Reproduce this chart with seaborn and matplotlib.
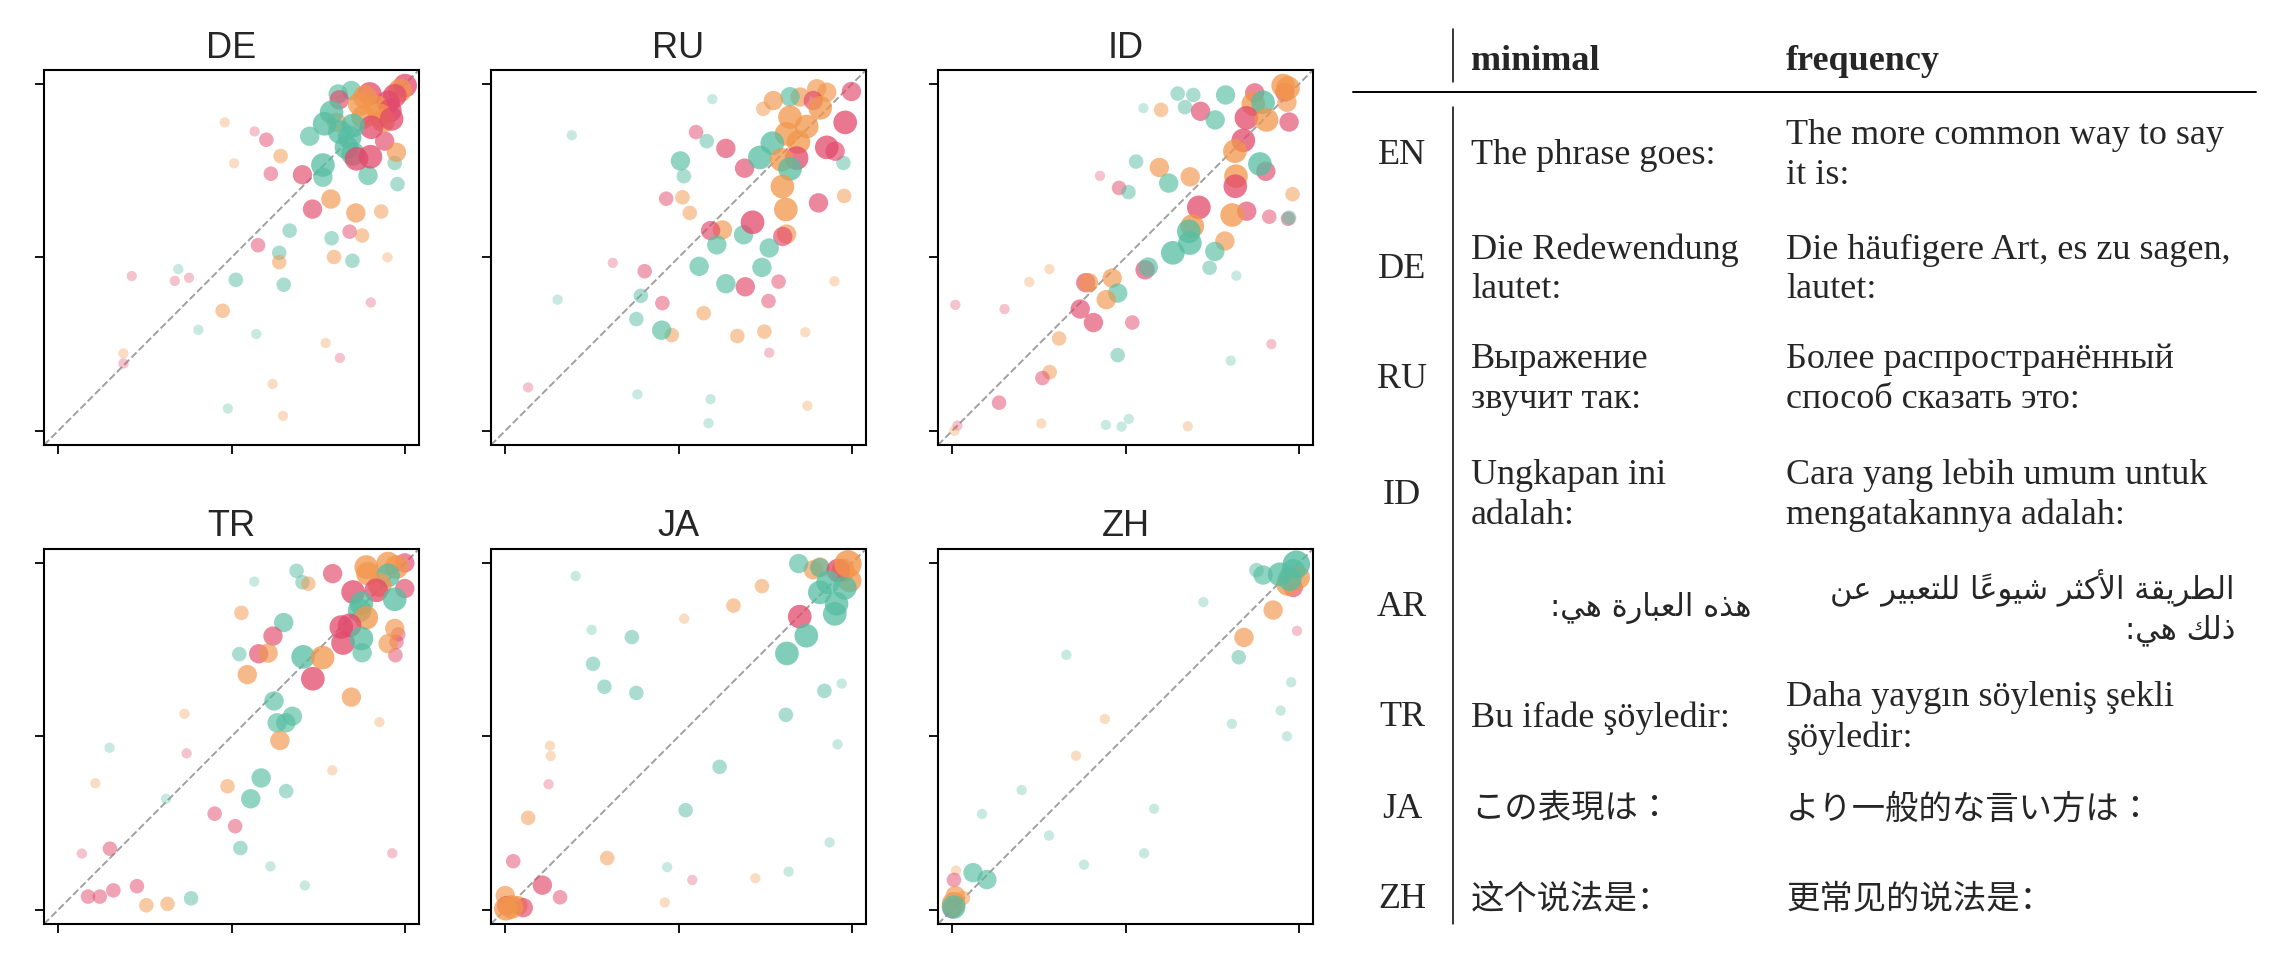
import numpy as np
import pandas as pd
import seaborn as sns
import matplotlib.pyplot as plt

# ---- scatter data: x = minimal score, y = frequency score, g = model, s = weight level
languages = ['DE', 'RU', 'ID', 'TR', 'JA', 'ZH']

de_x = [1.00, 0.985, 0.97, 0.898, 0.845, 0.807, 0.81, 0.884, 0.869, 0.951, 0.917, 0.956, 0.788, 0.879, 0.927,
        0.937, 0.961, 0.903, 0.802, 0.768, 0.85, 0.812, 0.84, 0.725, 0.941, 0.831, 0.85, 0.86, 0.9, 0.975,
        0.763, 0.763, 0.704, 0.893, 0.97, 0.978, 0.641, 0.507, 0.613, 0.566, 0.6, 0.48, 0.786, 0.733, 0.858,
        0.931, 0.667, 0.84, 0.876, 0.788, 0.576, 0.637, 0.637, 0.795, 0.848, 0.949, 0.346, 0.212, 0.336, 0.377,
        0.512, 0.65, 0.901, 0.474, 0.404, 0.571, 0.771, 0.812, 0.188, 0.188, 0.618, 0.489, 0.648]
de_y = [0.995, 0.981, 0.966, 0.971, 0.981, 0.971, 0.954, 0.962, 0.942, 0.947, 0.933, 0.923, 0.918, 0.904, 0.909,
        0.894, 0.899, 0.875, 0.889, 0.885, 0.88, 0.861, 0.846, 0.849, 0.835, 0.817, 0.798, 0.784, 0.79, 0.803,
        0.766, 0.731, 0.738, 0.736, 0.772, 0.711, 0.792, 0.771, 0.741, 0.863, 0.839, 0.889, 0.668, 0.639, 0.628,
        0.632, 0.577, 0.574, 0.563, 0.555, 0.535, 0.513, 0.486, 0.501, 0.49, 0.5, 0.466, 0.446, 0.432, 0.441,
        0.435, 0.421, 0.37, 0.346, 0.291, 0.279, 0.253, 0.21, 0.223, 0.194, 0.135, 0.064, 0.043]
de_g = "rorrttroor" "ortooorrot" "ttttrttrro" "ttrtttoorr" "roorootrot" "rtoototrrr" "ttrottoror" "oto"
de_s = [4, 4, 4, 4, 3, 3, 3, 4, 4, 4, 4, 4, 4, 4, 4, 4, 4, 4, 3, 4, 4, 4, 4, 3, 3, 4, 4, 4, 4, 3,
        4, 3, 3, 3, 2, 2, 2, 1, 2, 1, 2, 1, 3, 3, 3, 2, 2, 2, 2, 2, 2, 2, 2, 2, 2, 1, 1, 1, 1, 1,
        2, 2, 1, 2, 1, 1, 1, 1, 1, 1, 1, 1, 1]

ru_x = [0.998, 0.898, 0.927, 0.85, 0.821, 0.888, 0.908, 0.773, 0.744, 0.597, 0.821, 0.869, 0.98, 0.811, 0.845,
        0.77, 0.734, 0.84, 0.797, 0.821, 0.927, 0.951, 0.975, 0.69, 0.55, 0.581, 0.636, 0.505, 0.515, 0.192,
        0.799, 0.977, 0.903, 0.464, 0.511, 0.532, 0.809, 0.713, 0.626, 0.592, 0.687, 0.811, 0.8, 0.61, 0.761,
        0.559, 0.74, 0.31, 0.402, 0.636, 0.692, 0.788, 0.949, 0.151, 0.391, 0.453, 0.759, 0.572, 0.378, 0.451,
        0.48, 0.669, 0.747, 0.865, 0.761, 0.066, 0.381, 0.592, 0.871, 0.586]
ru_y = [0.978, 0.986, 0.976, 0.962, 0.963, 0.952, 0.931, 0.952, 0.928, 0.956, 0.904, 0.877, 0.889, 0.856, 0.832,
        0.829, 0.788, 0.786, 0.781, 0.755, 0.817, 0.806, 0.772, 0.757, 0.861, 0.835, 0.814, 0.778, 0.734, 0.852,
        0.704, 0.677, 0.657, 0.669, 0.673, 0.628, 0.638, 0.601, 0.579, 0.577, 0.565, 0.567, 0.56, 0.536, 0.527,
        0.474, 0.471, 0.484, 0.46, 0.424, 0.415, 0.43, 0.431, 0.378, 0.389, 0.368, 0.374, 0.339, 0.322, 0.29,
        0.276, 0.273, 0.286, 0.284, 0.225, 0.125, 0.105, 0.091, 0.072, 0.022]
ru_g = "roootrooot" "ooroottrot" "rrtrrtrttt" "oorroooror" "torttttrrt" "rrottrrott" "oooorrttot"
ru_s = [3, 3, 3, 3, 3, 3, 4, 3, 2, 1, 4, 4, 4, 4, 4, 4, 4, 4, 4, 4, 4, 3, 2, 3, 2, 2, 3, 3, 2, 1,
        4, 2, 3, 2, 2, 2, 4, 4, 3, 3, 3, 3, 3, 3, 3, 3, 3, 1, 2, 3, 3, 2, 1, 1, 2, 2, 2, 2, 2, 3,
        2, 2, 2, 1, 1, 1, 1, 1, 1, 1]

id_x = [0.954, 0.968, 0.959, 0.872, 0.868, 0.896, 0.965, 0.848, 0.906, 0.971, 0.65, 0.695, 0.788, 0.551, 0.602,
        0.671, 0.716, 0.758, 0.839, 0.815, 0.53, 0.597, 0.887, 0.904, 0.426, 0.686, 0.818, 0.816, 0.624, 0.481,
        0.508, 0.981, 0.711, 0.849, 0.807, 0.914, 0.968, 0.971, 0.692, 0.682, 0.685, 0.786, 0.636, 0.757, 0.742,
        0.819, 0.556, 0.565, 0.28, 0.222, 0.385, 0.393, 0.461, 0.477, 0.444, 0.009, 0.151, 0.369, 0.407, 0.519,
        0.308, 0.92, 0.477, 0.803, 0.281, 0.26, 0.135, 0.015, 0.006, 0.257, 0.443, 0.488, 0.509, 0.679]
id_y = [0.995, 0.988, 0.976, 0.974, 0.942, 0.947, 0.947, 0.902, 0.896, 0.89, 0.972, 0.968, 0.968, 0.93, 0.925,
        0.933, 0.921, 0.896, 0.837, 0.806, 0.776, 0.759, 0.769, 0.748, 0.735, 0.732, 0.734, 0.705, 0.714, 0.7,
        0.688, 0.682, 0.644, 0.633, 0.622, 0.617, 0.611, 0.614, 0.59, 0.575, 0.541, 0.547, 0.513, 0.517, 0.47,
        0.447, 0.464, 0.472, 0.466, 0.429, 0.427, 0.427, 0.44, 0.397, 0.378, 0.363, 0.351, 0.351, 0.312, 0.312,
        0.266, 0.25, 0.218, 0.202, 0.169, 0.152, 0.081, 0.015, 0.0, 0.021, 0.017, 0.012, 0.034, 0.013]
id_g = "oorrotoror" "ttttotrtro" "totrroortr" "torrorrtot" "tottttrtoo" "rootorrrrr" "orttorrroo" "ttto"
id_s = [4, 4, 3, 3, 4, 4, 3, 4, 4, 3, 2, 2, 3, 1, 2, 2, 3, 3, 4, 4, 2, 3, 4, 3, 1, 3, 4, 4, 3, 2,
        2, 2, 4, 3, 4, 2, 2, 2, 4, 4, 4, 3, 4, 3, 2, 1, 3, 3, 1, 1, 3, 3, 3, 3, 3, 1, 1, 3, 3, 2,
        2, 1, 2, 1, 2, 2, 2, 1, 1, 1, 1, 1, 1, 1]

tr_x = [0.999, 0.951, 0.975, 0.888, 0.893, 0.951, 0.927, 0.917, 0.999, 0.85, 0.97, 0.874, 0.869, 0.888, 0.816,
        0.84, 0.821, 0.874, 0.876, 0.97, 0.98, 0.975, 0.951, 0.972, 0.791, 0.687, 0.704, 0.721, 0.565, 0.528,
        0.65, 0.619, 0.522, 0.578, 0.605, 0.706, 0.762, 0.545, 0.734, 0.845, 0.622, 0.631, 0.656, 0.675, 0.926,
        0.364, 0.639, 0.148, 0.37, 0.79, 0.107, 0.488, 0.585, 0.657, 0.311, 0.555, 0.451, 0.51, 0.068, 0.149,
        0.525, 0.963, 0.612, 0.711, 0.159, 0.227, 0.086, 0.12, 0.254, 0.315, 0.383]
tr_y = [1.0, 0.998, 0.988, 0.988, 0.969, 0.964, 0.936, 0.921, 0.926, 0.916, 0.895, 0.883, 0.863, 0.842, 0.815,
        0.82, 0.769, 0.782, 0.741, 0.811, 0.794, 0.772, 0.767, 0.734, 0.969, 0.977, 0.944, 0.94, 0.946, 0.856,
        0.828, 0.789, 0.737, 0.738, 0.74, 0.729, 0.727, 0.678, 0.666, 0.613, 0.602, 0.539, 0.539, 0.558, 0.541,
        0.565, 0.488, 0.467, 0.451, 0.402, 0.365, 0.356, 0.38, 0.342, 0.32, 0.32, 0.277, 0.241, 0.162, 0.176,
        0.178, 0.163, 0.125, 0.07, 0.056, 0.068, 0.038, 0.038, 0.013, 0.017, 0.033]
tr_g = "rooootorrr" "tttorrrtto" "rrorrttoto" "trtrotooro" "ttttoootro" "oottttrrrr" "trttrrrroot"
tr_s = [3, 4, 4, 4, 4, 4, 4, 4, 3, 4, 4, 4, 4, 4, 4, 4, 4, 4, 3, 3, 2, 2, 3, 2, 3, 2, 2, 2, 1, 2,
        3, 3, 2, 3, 3, 4, 4, 3, 4, 3, 3, 3, 3, 3, 1, 1, 3, 1, 1, 1, 1, 2, 3, 2, 1, 3, 2, 2, 1, 2,
        2, 1, 1, 1, 2, 2, 2, 2, 2, 2, 2]

ja_x = [0.988, 0.974, 0.993, 0.96, 0.888, 0.907, 0.907, 0.846, 0.931, 0.979, 0.907, 0.955, 0.95, 0.849, 0.868,
        0.812, 0.74, 0.658, 0.516, 0.203, 0.249, 0.365, 0.253, 0.286, 0.378, 0.97, 0.92, 0.809, 0.958, 0.618,
        0.129, 0.131, 0.125, 0.066, 0.52, 0.935, 0.023, 0.294, 0.467, 0.817, 0.539, 0.721, 0.107, 0.158, 0.46,
        0.0, 0.004, 0.018, 0.037, 0.052, 0.002]
ja_y = [0.997, 0.978, 0.949, 0.978, 0.98, 0.988, 0.986, 0.998, 0.944, 0.928, 0.915, 0.882, 0.853, 0.845, 0.79,
        0.739, 0.933, 0.877, 0.839, 0.962, 0.807, 0.786, 0.709, 0.643, 0.625, 0.652, 0.631, 0.562, 0.477, 0.412,
        0.473, 0.443, 0.362, 0.265, 0.287, 0.194, 0.14, 0.149, 0.123, 0.11, 0.086, 0.091, 0.071, 0.036, 0.021,
        0.041, 0.012, 0.008, 0.012, 0.006, 0.003]
ja_g = "ooorootttt" "tttrttooot" "tttttttttt" "oorottrott" "rorroorooro"
ja_s = [5, 4, 4, 4, 3, 3, 3, 3, 4, 4, 4, 4, 4, 4, 4, 4, 2, 2, 1, 1, 1, 2, 2, 2, 2, 1, 2, 2, 1, 2,
        1, 1, 1, 2, 2, 1, 2, 2, 1, 1, 1, 1, 3, 2, 1, 3, 3, 4, 3, 3, 4]

zh_x = [0.992, 0.983, 0.997, 0.968, 0.983, 0.944, 0.896, 0.877, 0.973, 0.724, 0.925, 0.841, 0.994, 0.826, 0.329,
        0.977, 0.947, 0.806, 0.965, 0.44, 0.357, 0.2, 0.086, 0.582, 0.279, 0.553, 0.38, 0.011, 0.06, 0.1,
        0.005, 0.009, 0.031, 0.004, 0.004, 0.0]
zh_y = [0.996, 0.977, 0.958, 0.939, 0.929, 0.967, 0.965, 0.979, 0.953, 0.887, 0.864, 0.785, 0.804, 0.728, 0.735,
        0.656, 0.574, 0.536, 0.5, 0.55, 0.444, 0.345, 0.276, 0.291, 0.214, 0.163, 0.13, 0.113, 0.107, 0.087,
        0.086, 0.041, 0.034, 0.017, 0.008, 0.003]
zh_g = "ttoorttttt" "oortttttto" "ottttttott" "roootr"
zh_s = [5, 4, 4, 4, 3, 4, 3, 2, 4, 1, 3, 3, 1, 2, 1, 1, 1, 1, 1, 1, 1, 1, 1, 1, 1, 1, 1, 1, 3, 3,
        2, 3, 2, 4, 4, 3]

panel_data = {'DE': (de_x, de_y, de_g, de_s), 'RU': (ru_x, ru_y, ru_g, ru_s), 'ID': (id_x, id_y, id_g, id_s),
              'TR': (tr_x, tr_y, tr_g, tr_s), 'JA': (ja_x, ja_y, ja_g, ja_s), 'ZH': (zh_x, zh_y, zh_g, zh_s)}

# ---- table data
codes = ['EN', 'DE', 'RU', 'ID', 'AR', 'TR', 'JA', 'ZH']
minimal_prompts = [['The phrase goes:'], ['Die Redewendung', 'lautet:'], ['Выражение', 'звучит так:'],
                   ['Ungkapan ini', 'adalah:'], ['هذه العبارة هي:'], ['Bu ifade şöyledir:'],
                   ['この表現は：'], ['这个说法是：']]
frequency_prompts = [['The more common way to say', 'it is:'], ['Die häufigere Art, es zu sagen,', 'lautet:'],
                     ['Более распространённый', 'способ сказать это:'],
                     ['Cara yang lebih umum untuk', 'mengatakannya adalah:'],
                     ['الطريقة الأكثر شيوعاً للتعبير عن', 'ذلك هي:'],
                     ['Daha yaygın söyleniş şekli', 'şöyledir:'], ['より一般的な言い方は：'], ['更常见的说法是：']]

# ---- minimal arabic shaping (matplotlib has no complex text layout)
DUAL = {'ب': 0xFE8F, 'ت': 0xFE95, 'ث': 0xFE99, 'ش': 0xFEB5, 'ط': 0xFEC1, 'ع': 0xFEC9,
        'ق': 0xFED5, 'ك': 0xFED9, 'ل': 0xFEDD, 'ن': 0xFEE5, 'ه': 0xFEE9, 'ي': 0xFEF1}
RIGHT = {'ا': 0xFE8D, 'أ': 0xFE83, 'ذ': 0xFEAB, 'ر': 0xFEAD, 'ة': 0xFE93, 'و': 0xFEED,
         'لا': 0xFEFB, 'لأ': 0xFEF7}
MARKS = {'\u064b'}


def shape_arabic(text):
    units = []
    i = 0
    while i < len(text):
        if text[i] == 'ل' and text[i + 1:i + 2] in ('ا', 'أ'):
            units.append(text[i:i + 2])
            i += 2
        else:
            units.append(text[i])
            i += 1
    glyphs = list(units)
    for k, u in enumerate(units):
        if u not in DUAL and u not in RIGHT:
            continue
        prev = next((units[j] for j in range(k - 1, -1, -1) if units[j] not in MARKS), None)
        nxt = next((units[j] for j in range(k + 1, len(units)) if units[j] not in MARKS), None)
        jp = prev in DUAL
        jn = u in DUAL and (nxt in DUAL or nxt in RIGHT)
        off = {(False, False): 0, (True, False): 1, (False, True): 2, (True, True): 3}[(jp, jn)]
        glyphs[k] = chr(DUAL.get(u, RIGHT.get(u)) + off)
    # group base + marks, then reverse for visual order
    clusters = []
    for g in glyphs:
        if g in MARKS and clusters:
            clusters[-1] += g
        else:
            clusters.append(g)
    return ''.join(reversed(clusters))


# ---- style
sns.set_theme(style='white')
plt.rcParams['font.family'] = ['Liberation Sans', 'DejaVu Sans']

palette = {'r': '#E2496B', 'o': '#F2964B', 't': '#56BDA2'}
size_map = {1: 55, 2: 110, 3: 195, 4: 290, 5: 390}
alpha_map = {1: 0.33, 2: 0.5, 3: 0.65, 4: 0.75, 5: 0.8}

fig = plt.figure(figsize=(22.88, 9.66), dpi=100)
W, H = 2288, 966
lefts = [44, 491, 938]
tops = [70, 549]
side = 375

for n, lang in enumerate(languages):
    x, y, g, s = panel_data[lang]
    df = pd.DataFrame({'minimal': x, 'frequency': y, 'model': list(g), 'weight': s})
    df = df.sort_values('weight', kind='stable').reset_index(drop=True)
    left = lefts[n % 3]
    top = tops[n // 3]
    ax = fig.add_axes([left / W, 1 - (top + side) / H, side / W, side / H])
    ax.plot([-0.041, 1.04], [-0.041, 1.04], ls='--', color='#a0a0a0', lw=1.4, zorder=0.5)
    sns.scatterplot(data=df, x='minimal', y='frequency', hue='model', palette=palette,
                    size='weight', sizes=size_map, alpha=df['weight'].map(alpha_map).to_numpy(),
                    linewidth=0, legend=False, ax=ax, zorder=2)
    ax.set_xlim(-0.041, 1.04)
    ax.set_ylim(-0.041, 1.04)
    ax.set_xticks([0, 0.5, 1])
    ax.set_yticks([0, 0.5, 1])
    ax.set_xticklabels([])
    ax.set_yticklabels([])
    ax.set_xlabel('')
    ax.set_ylabel('')
    ax.tick_params(axis='both', direction='out', length=6.5, width=1.3, color='black',
                   bottom=True, left=True)
    for sp in ax.spines.values():
        sp.set_visible(True)
        sp.set_color('black')
        sp.set_linewidth(1.5)
    ax.set_title(lang, fontsize=26, pad=9, family=['Liberation Sans'])

# ---- table on the right, in pixel coordinates
tab = fig.add_axes([0, 0, 1, 1])
tab.set_xlim(0, W)
tab.set_ylim(H, 0)
tab.axis('off')
tab.patch.set_alpha(0)

serif = ['Liberation Serif', 'Noto Sans CJK JP']
code_x, min_x, freq_x = 1402, 1471, 1786
min_right, freq_right = 1751, 2235
row_y = [156, 270, 380, 495, 608, 718, 810, 900]
gap = 20
fs = 26

tab.text(min_x, 61, 'minimal', fontsize=fs, fontweight='bold', family=serif, va='center')
tab.text(freq_x, 61, 'frequency', fontsize=fs, fontweight='bold', family=serif, va='center')
tab.plot([1453, 1453], [29, 82], color='black', lw=1.1)
tab.plot([1353, 2256], [92, 92], color='black', lw=1.4)
tab.plot([1453, 1453], [107, 924], color='black', lw=1.1)

for code, yc, mins, freqs in zip(codes, row_y, minimal_prompts, frequency_prompts):
    tab.text(code_x, yc, code, fontsize=fs, family=serif, ha='center', va='center')
    if code == 'AR':
        fam = ['DejaVu Sans']
        tab.text(min_right, yc, shape_arabic(mins[0]), fontsize=22, family=fam, ha='right', va='center')
        for k, line in enumerate(freqs):
            tab.text(freq_right, yc - 21 + 43 * k, shape_arabic(line), fontsize=22, family=fam,
                     ha='right', va='center')
        continue
    fam = serif
    if code == 'ZH':
        fam = ['Liberation Serif', 'Noto Sans CJK SC']
    cfs = 24 if code in ('JA', 'ZH') else fs
    for col_x, lines in ((min_x, mins), (freq_x, freqs)):
        offs = [0] if len(lines) == 1 else [-gap, gap]
        for line, o in zip(lines, offs):
            tab.text(col_x, yc + o, line, fontsize=cfs, family=fam, va='center')

fig.savefig('out.png', dpi=100)
